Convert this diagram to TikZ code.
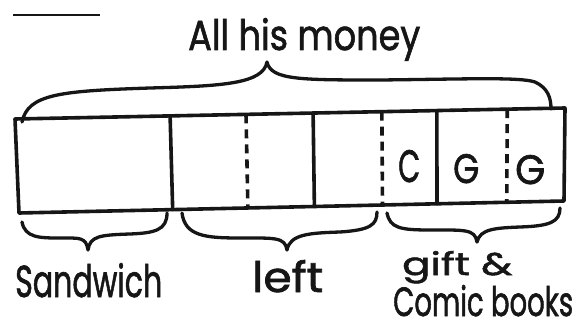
\documentclass[tikz,border=0pt]{standalone}
\usepackage{fontspec}
\setmainfont{Poppins}
\newfontfamily\hand{Poppins}[FakeBold=1.6]
\usepackage{graphicx}
\usetikzlibrary{calc}
\definecolor{ink}{HTML}{161616}
\newcommand{\hw}[3]{\resizebox{#1pt}{#2pt}{\hand #3}}
\tikzset{
  inkline/.style={draw=ink, line width=3.6pt, line cap=round, line join=round},
  solidsep/.style={inkline},
  dashsep/.style={inkline, line cap=butt, dash pattern=on 9pt off 6pt},
  bracestyle/.style={inkline, line width=3.3pt},
  label/.style={inner sep=0pt, anchor=base west, text=ink},
}
\begin{document}
\begin{tikzpicture}[x=1pt, y=-1pt]
\useasboundingbox (0,0) rectangle (582,329);
% cropped fragment at top left
\draw[draw=ink, line width=1.8pt] (13,15) coordinate (fa) -- (100,15) coordinate (fb);
% the bar
\coordinate (TL) at (15,119);
\coordinate (TR) at (565,108);
\coordinate (BR) at (564,201);
\coordinate (BL) at (19,213);
\draw[inkline] (TL) -- (TR) -- (BR) -- (BL) -- cycle;
% dividers
\foreach \t/\s [count=\i] in {0.282/solidsep, 0.42/dashsep, 0.542/solidsep, 0.667/dashsep, 0.767/solidsep, 0.895/dashsep}{
  \coordinate (top\i) at ($(TL)!\t!(TR)$);
  \coordinate (bot\i) at ($(BL)!\t!(BR)$);
  \draw[\s] (top\i) -- (bot\i);
}
% letters in cells
\node[label] (c1) at (398,182) {\hw{22}{32}{C}};
\node[label] (g1) at (453,183) {\hw{26}{29}{G}};
\node[label] (g2) at (515,184) {\hw{30}{29}{G}};
% top brace
\coordinate (tbL) at (22,122);
\coordinate (tbT) at (267,62);
\coordinate (tbR) at (551,109);
\draw[bracestyle] (tbL) .. controls (28,94) and (60,91) .. (150,88)
  .. controls (222,86) and (263,84) .. (tbT)
  .. controls (271,80) and (300,80) .. (380,80)
  .. controls (470,79) and (520,77) .. (535,82)
  .. controls (548,88) and (551,98) .. (tbR);
\node[label] (all) at (188,50) {\hw{232}{32}{All his money}};
% bottom braces
\coordinate (sbL) at (22,222);
\coordinate (sbT) at (88,250);
\coordinate (sbR) at (167,213);
\draw[bracestyle] (sbL) .. controls (25,238) and (40,238) .. (60,238)
  .. controls (80,238) and (86,237) .. (sbT)
  .. controls (90,236) and (100,235) .. (130,234)
  .. controls (155,233) and (167,230) .. (sbR);
\coordinate (lbL) at (182,213);
\coordinate (lbT) at (287,250);
\coordinate (lbR) at (377,212);
\draw[bracestyle] (lbL) .. controls (185,236) and (205,238) .. (240,238)
  .. controls (275,238) and (285,237) .. (lbT)
  .. controls (290,234) and (310,233) .. (340,232)
  .. controls (370,230) and (377,225) .. (lbR);
\coordinate (gbL) at (387,213);
\coordinate (gbT) at (477,242);
\coordinate (gbR) at (560,208);
\draw[bracestyle] (gbL) .. controls (390,228) and (400,230) .. (430,230)
  .. controls (465,230) and (475,229) .. (gbT)
  .. controls (480,229) and (495,228) .. (520,227)
  .. controls (550,226) and (560,222) .. (gbR);
% labels
\node[label] (sand) at (15,297) {\hw{147}{34}{Sandwich}};
\node[label] (left) at (252,292) {\hw{71}{32}{left}};
\node[label] (gift) at (402,275) {\hw{110}{24}{gift \&}};
\node[label] (comic) at (393,316) {\hw{180}{31}{Comic books}};
\end{tikzpicture}
\end{document}
